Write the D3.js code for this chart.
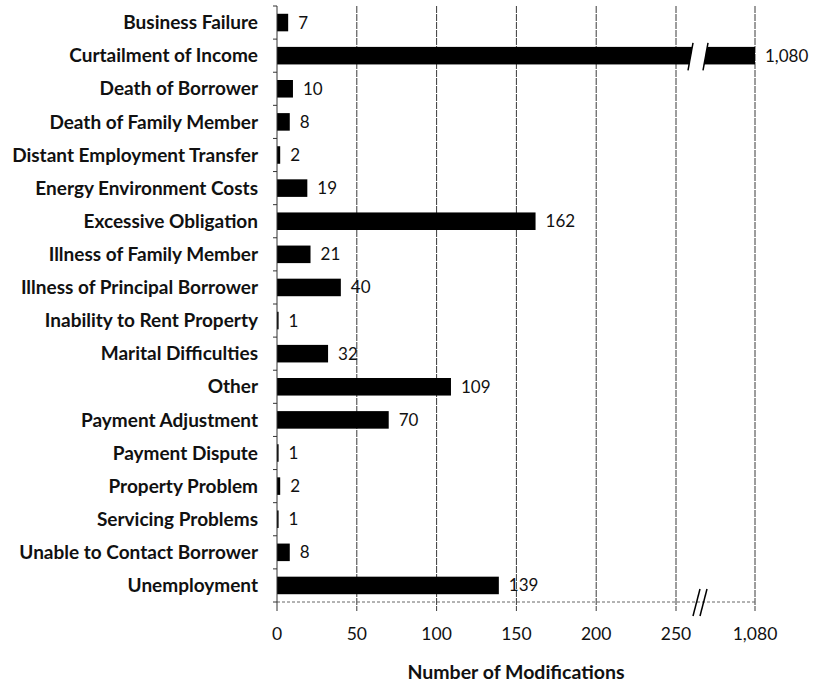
<!DOCTYPE html>
<html><head><meta charset="utf-8">
<script src="https://cdn.jsdelivr.net/npm/d3@7"></script>
<style>body{margin:0;background:#fff;} svg{display:block;}</style>
</head><body>
<svg id="c" width="814" height="683"></svg>
<script>
const categories = ["Business Failure","Curtailment of Income","Death of Borrower","Death of Family Member","Distant Employment Transfer","Energy Environment Costs","Excessive Obligation","Illness of Family Member","Illness of Principal Borrower","Inability to Rent Property","Marital Difficulties","Other","Payment Adjustment","Payment Dispute","Property Problem","Servicing Problems","Unable to Contact Borrower","Unemployment"];
const values = [7,1080,10,8,2,19,162,21,40,1,32,109,70,1,2,1,8,139];
const tickValues = [0,50,100,150,200,250,1080];
const tickLabels = ["0","50","100","150","200","250","1,080"];
const axisTitle = "Number of Modifications";

const svg = d3.select("#c");
const plotLeft = 277, plotTop = 6, plotBottom = 602;
const x = d3.scaleLinear().domain([0,250,1080]).range([277,676,755]);
const y = d3.scaleBand().domain(categories).range([plotTop,plotBottom]).paddingInner(0.47).paddingOuter(0.235);

const labelFont = "Lato, 'Open Sans', sans-serif";

// gridlines
svg.append("g").selectAll("line").data(tickValues.slice(1)).join("line")
  .attr("x1",d=>x(d)).attr("x2",d=>x(d)).attr("y1",plotTop).attr("y2",plotBottom+9)
  .attr("stroke","#3a3a3a").attr("stroke-width",1).attr("stroke-dasharray","7,1");

// bottom axis line (dotted)
svg.append("line").attr("x1",plotLeft).attr("x2",x(1080)).attr("y1",plotBottom).attr("y2",plotBottom)
  .attr("stroke","#666").attr("stroke-width",1).attr("stroke-dasharray","3,2");

// bars
svg.append("g").selectAll("rect").data(categories).join("rect")
  .attr("x",plotLeft).attr("y",d=>y(d)).attr("height",y.bandwidth())
  .attr("width",(d,i)=>Math.max(0,x(values[i])-plotLeft)).attr("fill","#000");

// break in the long bar
const bi = values.indexOf(d3.max(values));
const by0 = y(categories[bi]) - 4, by1 = y(categories[bi]) + y.bandwidth() + 6;
svg.append("polygon")
  .attr("points",`693,${by0} 708,${by0} 703,${by1} 688,${by1}`)
  .attr("fill","#fff");
[[693,688],[708,703]].forEach(([a,b])=>{
  svg.append("line").attr("x1",a).attr("y1",by0).attr("x2",b).attr("y2",by1)
    .attr("stroke","#000").attr("stroke-width",1.5);
});

// left axis
svg.append("line").attr("x1",plotLeft).attr("x2",plotLeft).attr("y1",plotTop).attr("y2",plotBottom+9)
  .attr("stroke","#333").attr("stroke-width",1);
const bounds = categories.map(c=>y(c)-y.step()*y.paddingInner()/2).concat([plotBottom]);
svg.append("g").selectAll("line").data(bounds).join("line")
  .attr("x1",plotLeft-4).attr("x2",plotLeft).attr("y1",d=>d).attr("y2",d=>d)
  .attr("stroke","#333");

// category labels
svg.append("g").selectAll("text").data(categories).join("text")
  .attr("x",258).attr("y",d=>y(d)+y.bandwidth()/2).attr("dy","0.35em")
  .attr("text-anchor","end").attr("font-family",labelFont).attr("font-weight","bold")
  .attr("font-size","19px").attr("fill","#111").text(d=>d);

// value labels
svg.append("g").selectAll("text").data(categories).join("text")
  .attr("x",(d,i)=>x(values[i])+10).attr("y",d=>y(d)+y.bandwidth()/2).attr("dy","0.35em")
  .attr("font-family",labelFont).attr("font-size","17px").attr("fill","#111")
  .text((d,i)=>d3.format(",")(values[i]));

// x tick labels
svg.append("g").selectAll("text").data(tickValues).join("text")
  .attr("x",d=>x(d)).attr("y",640).attr("text-anchor","middle")
  .attr("font-family",labelFont).attr("font-size","17.5px").attr("fill","#111")
  .text((d,i)=>tickLabels[i]);

// axis break marks
[[700,693],[707,700]].forEach(([a,b])=>{
  svg.append("line").attr("x1",a).attr("y1",589).attr("x2",b).attr("y2",616)
    .attr("stroke","#000").attr("stroke-width",1.5);
});

// axis title
svg.append("text").attr("x",516).attr("y",679).attr("text-anchor","middle")
  .attr("font-family",labelFont).attr("font-weight","bold").attr("font-size","19.5px")
  .attr("fill","#111").text(axisTitle);
</script>
</body></html>
